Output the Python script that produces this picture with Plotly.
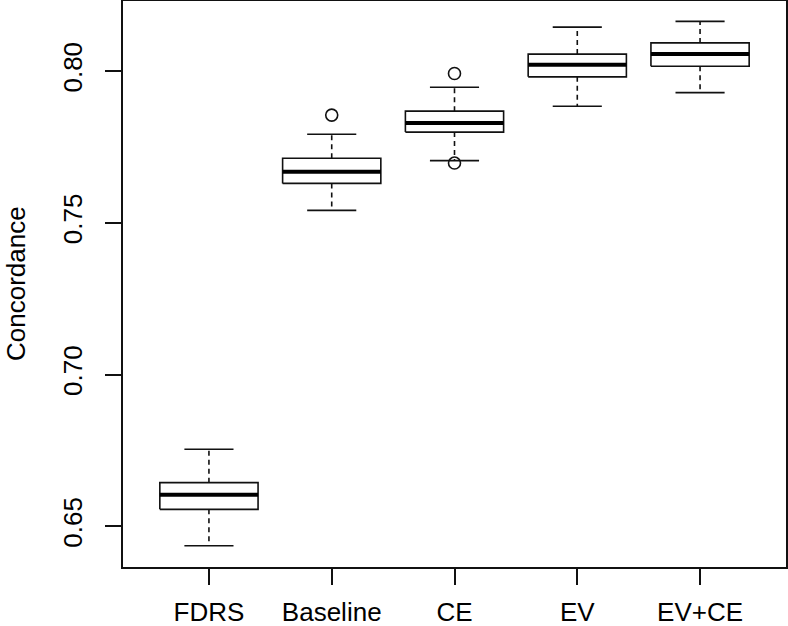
import plotly.graph_objects as go

categories = ["FDRS", "Baseline", "CE", "EV", "EV+CE"]
lower_whisker = [0.6436, 0.7541, 0.7705, 0.7884, 0.7929]
q1 = [0.6556, 0.7630, 0.7799, 0.7981, 0.8016]
median = [0.6604, 0.7668, 0.7829, 0.8021, 0.8056]
q3 = [0.6644, 0.7713, 0.7868, 0.8056, 0.8093]
upper_whisker = [0.6754, 0.7792, 0.7947, 0.8145, 0.8164]
outlier_cat = ["Baseline", "CE", "CE"]
outlier_val = [0.7855, 0.7992, 0.7697]

y_ticks = [0.65, 0.70, 0.75, 0.80]
y_tick_labels = ["0.65", "0.70", "0.75", "0.80"]

FONT = "Liberation Sans, Arial, Helvetica, sans-serif"
LINE = "#111111"
BOX_HALF = 0.4
CAP_HALF = 0.2

fig = go.Figure()

for i, cat in enumerate(categories):
    # box rectangle
    fig.add_trace(go.Scatter(
        x=[i - BOX_HALF, i + BOX_HALF, i + BOX_HALF, i - BOX_HALF, i - BOX_HALF],
        y=[q1[i], q1[i], q3[i], q3[i], q1[i]],
        mode="lines", fill="toself", fillcolor="white",
        line=dict(color=LINE, width=1.6), hoverinfo="skip", showlegend=False))
    # median
    fig.add_trace(go.Scatter(
        x=[i - BOX_HALF, i + BOX_HALF], y=[median[i], median[i]],
        mode="lines", line=dict(color="#000000", width=4),
        hoverinfo="skip", showlegend=False))
    # whiskers (dashed)
    fig.add_trace(go.Scatter(
        x=[i, i, None, i, i],
        y=[q3[i], upper_whisker[i], None, q1[i], lower_whisker[i]],
        mode="lines", line=dict(color=LINE, width=1.6, dash="5px,4px"),
        hoverinfo="skip", showlegend=False))
    # caps
    fig.add_trace(go.Scatter(
        x=[i - CAP_HALF, i + CAP_HALF, None, i - CAP_HALF, i + CAP_HALF],
        y=[upper_whisker[i], upper_whisker[i], None, lower_whisker[i], lower_whisker[i]],
        mode="lines", line=dict(color=LINE, width=1.6),
        hoverinfo="skip", showlegend=False))

fig.add_trace(go.Scatter(
    x=[categories.index(c) for c in outlier_cat], y=outlier_val,
    mode="markers",
    marker=dict(symbol="circle-open", size=12, color=LINE, line=dict(width=1.6)),
    hoverinfo="skip", showlegend=False))

fig.update_layout(
    width=788, height=626,
    margin=dict(l=123, r=2, t=1, b=59, autoexpand=False),
    paper_bgcolor="white", plot_bgcolor="white",
    font=dict(family=FONT, size=26, color="#000000"),
    showlegend=False,
    xaxis=dict(
        range=[-0.7, 4.7], tickmode="array", automargin=False,
        tickvals=list(range(len(categories))), ticktext=categories,
        ticks="outside", ticklen=16, tickwidth=1.5, tickcolor=LINE,
        showline=True, linecolor=LINE, linewidth=1.6, mirror=True,
        showgrid=False, zeroline=False,
        tickfont=dict(family=FONT, size=26), ticklabelstandoff=5),
    yaxis=dict(
        range=[0.6366, 0.8231], tickmode="array", automargin=False,
        tickvals=y_ticks, ticktext=y_tick_labels, tickangle=-90,
        ticks="outside", ticklen=16, tickwidth=1.5, tickcolor=LINE,
        showline=True, linecolor=LINE, linewidth=1.6, mirror=True,
        showgrid=False, zeroline=False,
        tickfont=dict(family=FONT, size=26), ticklabelstandoff=13),
    annotations=[dict(
        text="Concordance", xref="paper", yref="paper",
        x=(16 - 123) / 663, y=0.5, xanchor="center", yanchor="middle",
        textangle=-90, showarrow=False,
        font=dict(family=FONT, size=26, color="#000000"))],
)

fig.write_html(
    "out.html",
    config={"displayModeBar": False},
    post_script="document.body.style.margin='0px';document.body.style.overflow='hidden';",
)
